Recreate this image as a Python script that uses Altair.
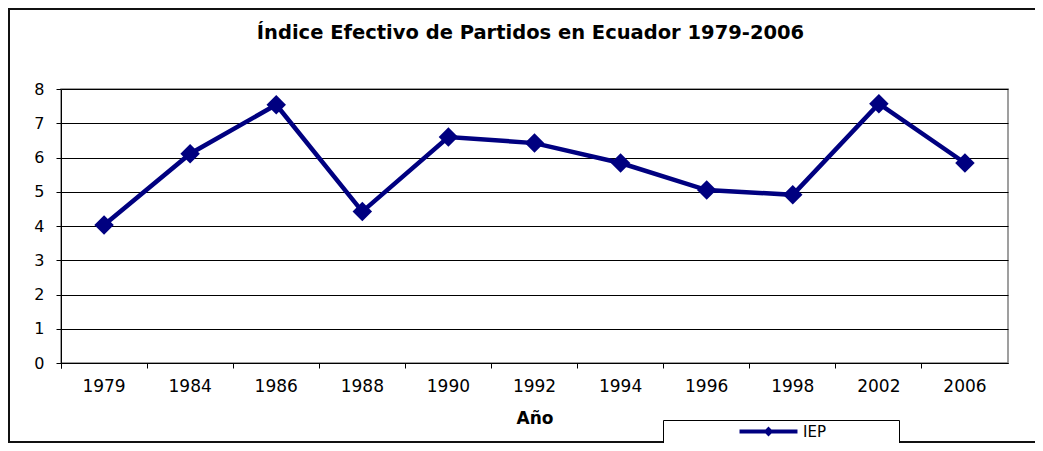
import altair as alt
import pandas as pd

# ---- data ----
years = ["1979", "1984", "1986", "1988", "1990", "1992", "1994", "1996", "1998", "2002", "2006"]
iep = [4.03, 6.11, 7.54, 4.42, 6.60, 6.42, 5.84, 5.05, 4.91, 7.57, 5.84]
series_name = "IEP"
y_ticks = [0, 1, 2, 3, 4, 5, 6, 7, 8]
title_text = "Índice Efectivo de Partidos en Ecuador 1979-2006"
x_title = "Año"

df = pd.DataFrame({"anio": years, "iep": iep, "serie": [series_name] * len(years)})

NAVY = "#000080"
FONT = "DejaVu Sans"
W, H = 947, 274

# legend symbol: thick line with a small diamond in the middle (+ invisible move to widen box)
LEG_PATH = ("M18,0 M-4.14,-0.29 L-0.42,-0.29 L0,-0.71 L0.42,-0.29 L4.14,-0.29 "
            "L4.14,0.29 L0.42,0.29 L0,0.71 L-0.42,0.29 L-4.14,0.29 Z")

x_enc = alt.X(
    "anio:N", sort=years, bandPosition=0.5,
    scale=alt.Scale(type="band", paddingInner=0, paddingOuter=0),
    axis=alt.Axis(
        title=x_title, bandPosition=0, tickExtra=True,
        labelAngle=0, grid=False, domainColor="black", domainWidth=1,
        tickColor="black", tickSize=5, labelFont=FONT, labelFontSize=17,
        labelColor="black", labelPadding=10, titleFont=FONT, titleFontSize=17,
        titleFontWeight="bold", titleColor="black", titlePadding=16,
        labelOverlap=False, labelBound=False, labelFlush=False,
    ),
)
y_enc = alt.Y(
    "iep:Q",
    scale=alt.Scale(domain=[0, 8], nice=False, zero=True),
    axis=alt.Axis(
        title=None, values=y_ticks, format="d", grid=True, gridColor="black",
        gridWidth=1, domainColor="black", domainWidth=1, tickColor="black",
        tickSize=5, labelFont=FONT, labelFontSize=16, labelColor="black",
        labelPadding=12,
    ),
)

base = alt.Chart(df)

line = base.mark_line(color=NAVY, strokeWidth=4.5).encode(x=x_enc, y=y_enc)

points = base.mark_point(shape="diamond", filled=True, size=380, opacity=1).encode(
    x=x_enc,
    y=y_enc,
    color=alt.Color(
        "serie:N",
        scale=alt.Scale(domain=[series_name], range=[NAVY]),
        legend=alt.Legend(
            title=None, orient="none", legendX=602, legendY=331, padding=4,
            strokeColor="black", fillColor="white", symbolType=LEG_PATH,
            symbolSize=196, symbolStrokeWidth=0, symbolOffset=94,
            labelOffset=27, labelFont=FONT, labelFontSize=15, labelColor="black",
        ),
    ),
)

frame = alt.Chart(alt.Data(values=[{"f": 1}])).mark_rect(
    fillOpacity=0, stroke="#111111", strokeWidth=2
).encode(
    x=alt.value(-52), x2=alt.value(1000), y=alt.value(-80), y2=alt.value(353)
)

chart = alt.layer(frame, line, points).properties(
    width=W,
    height=H,
    title=alt.TitleParams(
        title_text, font=FONT, fontSize=19.5, fontWeight="bold", color="black",
        anchor="middle", offset=-35, dx=-4, frame="group",
    ),
    autosize=alt.AutoSizeParams(type="none"),
    padding={"left": 53, "top": 81, "right": 27, "bottom": 80},
    background="white",
).configure_view(stroke="#808080", strokeWidth=1.5)

chart.save("out.html", embed_options={"renderer": "svg", "actions": False})
